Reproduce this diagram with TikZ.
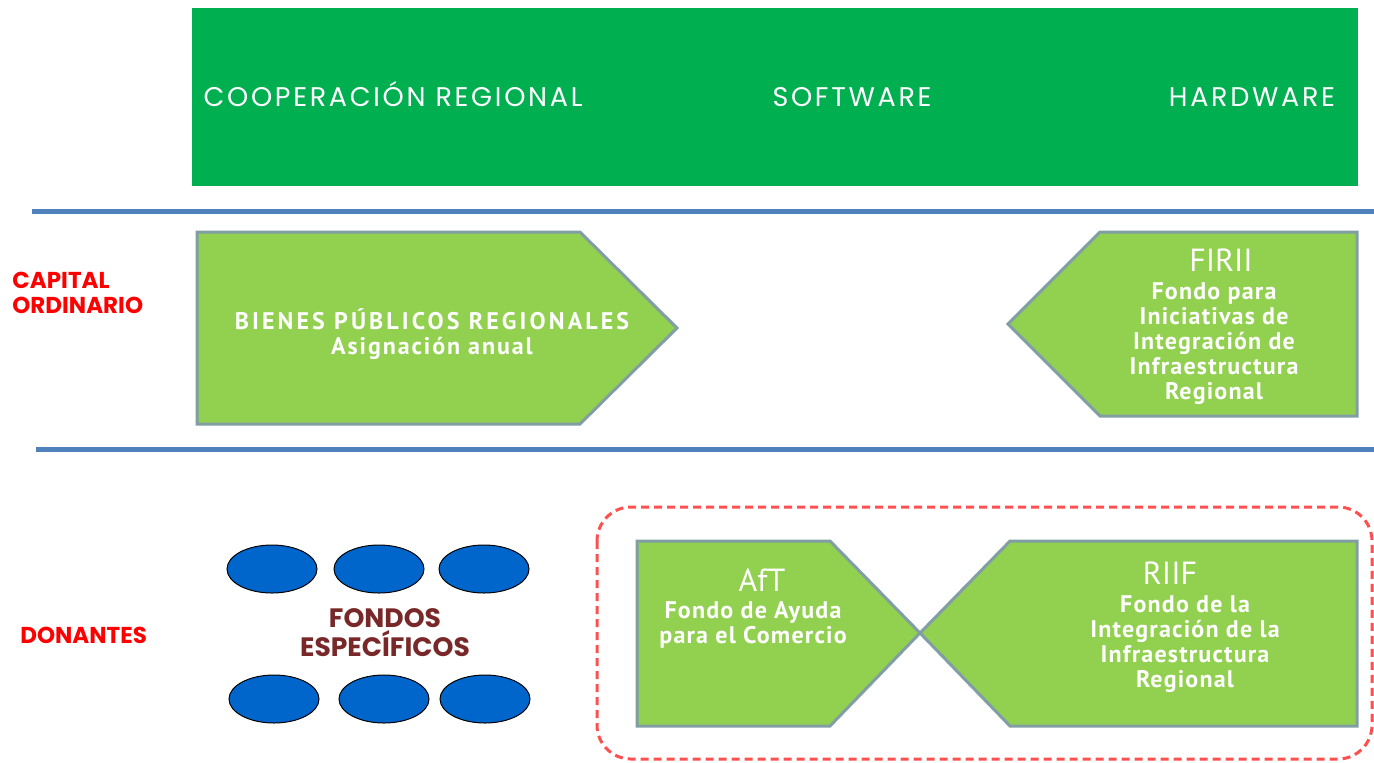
\documentclass[tikz,border=0pt]{standalone}
\usepackage{fontspec}
\setmainfont{Poppins}
\newfontfamily\boxfont{PT Sans}
\usetikzlibrary{shapes.geometric}
\definecolor{hdrgreen}{RGB}{0,176,80}
\definecolor{lgreen}{RGB}{146,208,80}
\definecolor{edgegray}{RGB}{130,158,165}
\definecolor{lineblue}{RGB}{79,129,189}
\definecolor{lblred}{RGB}{255,0,0}
\definecolor{dashred}{RGB}{255,80,80}
\definecolor{ellblue}{RGB}{0,102,204}
\definecolor{darkred}{RGB}{120,40,40}
\tikzset{
  hdr/.style={text=white,anchor=base,font=\fontsize{13.5}{15}\selectfont\addfontfeature{LetterSpace=10}},
  side/.style={text=lblred,font=\fontsize{11.5}{12.5}\selectfont\bfseries,align=left,anchor=west,inner sep=0pt},
  shp/.style={fill=lgreen,draw=edgegray,line width=1.5pt},
  btxt/.style={text=white,font=\boxfont\bfseries\fontsize{12}{12.5}\selectfont\addfontfeature{LetterSpace=5},align=center},
  bttl/.style={text=white,font=\boxfont\fontsize{16}{18}\selectfont},
  sep/.style={draw=lineblue,line width=2.5pt},
  fund/.style={ellipse,fill=ellblue,draw=black,line width=0.5pt,minimum width=45pt,minimum height=24pt,inner sep=0pt},
}
\begin{document}
\begin{tikzpicture}[x=0.5pt,y=-0.5pt]
\useasboundingbox (0,0) rectangle (1374,762);
% header
\fill[hdrgreen] (192,8) rectangle (1358,186);
\node[hdr] (coop) at (393,106) {COOPERACIÓN REGIONAL};
\node[hdr] (soft) at (852,106) {SOFTWARE};
\node[hdr] (hard) at (1252,106) {HARDWARE};
% separators
\coordinate (s1a) at (32,211); \coordinate (s1b) at (1374,211);
\coordinate (s2a) at (36,449); \coordinate (s2b) at (1374,449);
\draw[sep] (s1a) -- (s1b);
\draw[sep] (s2a) -- (s2b);
% side labels
\node[side] (cap) at (12,293) {CAPITAL\\ORDINARIO};
\node[side] (don) at (20,635) {DONANTES};
% Bienes publicos
\draw[shp] (197,232) -- (580,232) -- (677,328) -- (580,424) -- (197,424) -- cycle;
\node[btxt] (bpr) at (432,334) {{\addfontfeature{LetterSpace=13}BIENES PÚBLICOS REGIONALES}\\{\addfontfeature{LetterSpace=8}Asignación anual}};
% FIRII
\draw[shp] (1008,324) -- (1100,232) -- (1357,232) -- (1357,416) -- (1100,416) -- cycle;
\node[bttl] (firii) at (1221,260) {FIRII};
\node[btxt] (firiit) at (1214,344) {Fondo para\\Iniciativas de\\Integración de\\Infraestructura\\Regional};
% fondos especificos
\node[fund] (e1) at (272,569) {};
\node[fund] (e2) at (379,569) {};
\node[fund] (e3) at (484,569) {};
\node[fund] (e4) at (274,699) {};
\node[fund] (e5) at (384,699) {};
\node[fund] (e6) at (485,699) {};
\node[text=darkred,font=\fontsize{13.3}{14.5}\selectfont\bfseries,align=center] (fe) at (385,633) {FONDOS\\ESPECÍFICOS};
% dashed group
\draw[dashred,line width=1.5pt,dash pattern=on 4pt off 2.5pt,rounded corners=17pt] (597,507) rectangle (1372,759);
% AfT
\draw[shp] (637,541) -- (830,541) -- (920,633) -- (830,726) -- (637,726) -- cycle;
\node[bttl] (aft) at (762,580) {AfT};
\node[btxt] (aftt) at (753,625) {Fondo de Ayuda\\para el Comercio};
% RIIF
\draw[shp] (920,633) -- (1010,541) -- (1357,541) -- (1357,726) -- (1010,726) -- cycle;
\node[bttl] (riif) at (1170,573) {RIIF};
\node[btxt] (riift) at (1185,644) {Fondo de la\\Integración de la\\Infraestructura\\Regional};
\end{tikzpicture}
\end{document}
